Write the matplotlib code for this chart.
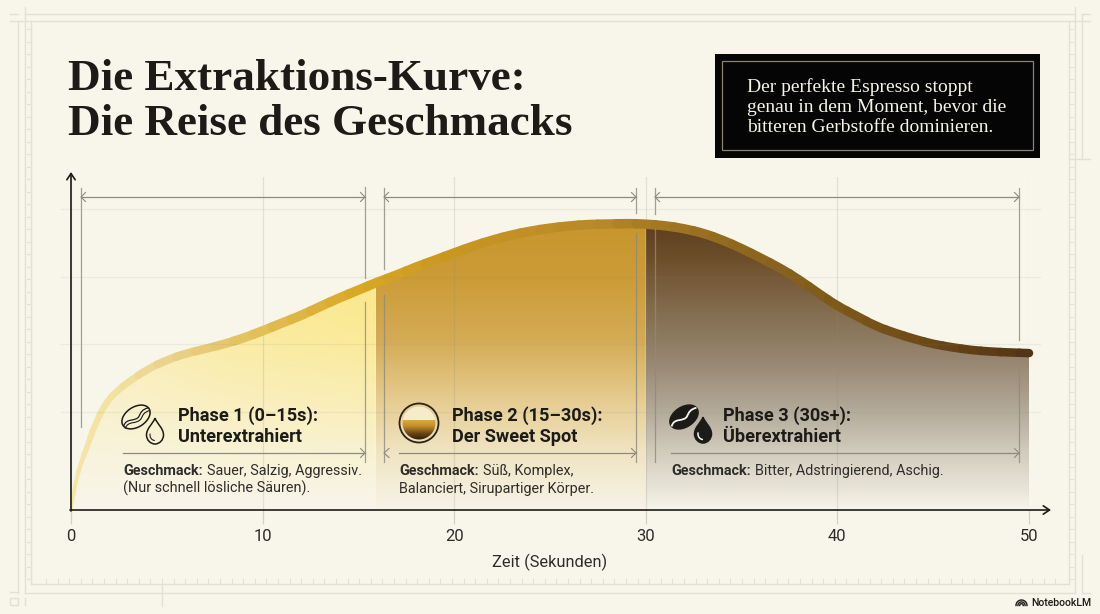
import matplotlib
matplotlib.use('Agg')
import matplotlib.pyplot as plt
import numpy as np
from matplotlib.collections import PathCollection
from matplotlib.colors import to_rgb
from matplotlib.patches import Circle, PathPatch, Polygon, Rectangle
from matplotlib.path import Path
from matplotlib.transforms import Affine2D

# data
time_s = [0, 0.25, 0.5, 0.8, 1.2, 1.8, 2.4, 3, 4, 5, 6, 7, 8, 9, 10, 11, 12, 13, 14, 15,
          16, 17, 18, 19, 20, 21, 22, 23, 24, 25, 26, 27, 28, 29, 30, 31, 32, 33, 34, 35,
          36, 37, 38, 39, 40, 41, 42, 43, 44, 45, 46, 47, 48, 49, 50]
extraction = [0, 9.7, 15.3, 20.3, 27.7, 35.7, 39.7, 42.7, 47, 50, 52.2, 53.7, 55.3, 57.3, 59.7,
              62.3, 64.8, 67.8, 70.7, 73.3, 76, 78.3, 81, 83.3, 85.7, 88, 90, 91.7, 93, 94,
              94.7, 95.2, 95.3, 95.5, 95.3, 94.8, 93.8, 92.3, 90, 87.2, 84, 80.7, 76.8, 72.3,
              68, 64.7, 61.3, 59, 57, 55.3, 54.2, 53.3, 52.8, 52.5, 52.3]
phase_edges = [0, 15.9, 30, 50]
x_ticks = [0, 10, 20, 30, 40, 50]
x_label = 'Zeit (Sekunden)'

title_lines = ['Die Extraktions-Kurve:', 'Die Reise des Geschmacks']
note_lines = ['Der perfekte Espresso stoppt', 'genau in dem Moment, bevor die',
              'bitteren Gerbstoffe dominieren.']
phase_heads = [['Phase 1 (0–15s):', 'Unterextrahiert'],
               ['Phase 2 (15–30s):', 'Der Sweet Spot'],
               ['Phase 3 (30s+):', 'Überextrahiert']]
phase_tastes = [['Sauer, Salzig, Aggressiv.', '(Nur schnell lösliche Säuren).'],
                ['Süß, Komplex,', 'Balanciert, Sirupartiger Körper.'],
                ['Bitter, Adstringierend, Aschig.', '']]

BG = '#F8F5EB'
INK = '#1C1B18'
TEXT = '#2E2D29'
FRAME = '#E3E1D5'
GUIDE = '#8C8B80'
SERIF = 'Liberation Serif'
SANS = 'Roboto'


def y_val(py):
    return (510 - py) / 3.0


def color_ramp(stops, pos):
    xs = [s[0] for s in stops]
    rgb = np.array([to_rgb(s[1]) for s in stops])
    return np.stack([np.interp(pos, xs, rgb[:, i]) for i in range(3)], axis=-1)


def gradient_fill(ax, t0, t1, stops, alpha_x=None, alpha_y=None):
    # vertical gradient, clipped to the area under the curve
    rows = np.linspace(210, 510, 300)
    img = np.ones((300, 120, 4))
    img[:, :, :3] = color_ramp(stops, rows)[:, None, :]
    if alpha_y is not None:
        img[:, :, 3] *= np.interp(rows, alpha_y[0], alpha_y[1])[:, None]
    if alpha_x is not None:
        cols = np.linspace(t0, t1, 120)
        img[:, :, 3] *= np.interp(cols, alpha_x[0], alpha_x[1])[None, :]
    im = ax.imshow(img, extent=[t0, t1, 0, y_val(210)], origin='upper', aspect='auto',
                   zorder=1, interpolation='bilinear')
    inside = [(t, v) for t, v in zip(time_s, extraction) if t0 < t < t1]
    verts = [(t0, 0), (t0, np.interp(t0, time_s, extraction))] + inside + \
            [(t1, np.interp(t1, time_s, extraction)), (t1, 0)]
    clip = Polygon(verts, closed=True, transform=ax.transData, fc='none', ec='none')
    ax.add_patch(clip)
    im.set_clip_path(clip)


def guide_arrow(ax, x0, x1, y, both=True, color=GUIDE):
    ax.plot([x0, x1], [y, y], color=color, lw=0.9, zorder=4)
    s = 4.5
    ax.plot([x1 - s, x1, x1 - s], [y - s, y, y + s], color=color, lw=0.8, zorder=4)
    if both:
        ax.plot([x0 + s, x0, x0 + s], [y - s, y, y + s], color=color, lw=0.8, zorder=4)


def draw_bean(ax, cx, cy, filled):
    tr = Affine2D().scale(15.5, 10).rotate_deg(-33).translate(cx, cy) + ax.transData
    body = PathPatch(Path.unit_circle(), transform=tr, zorder=6, lw=1.1,
                     fc=INK if filled else 'none', ec=INK)
    ax.add_patch(body)
    crease = Path([(-1, 0.12), (-0.55, -0.55), (-0.2, 0.45), (0.2, 0.1), (0.45, -0.15), (0.6, -0.3), (1, -0.1)],
                  [Path.MOVETO, Path.CURVE4, Path.CURVE4, Path.CURVE4, Path.CURVE4, Path.CURVE4, Path.CURVE4])
    ax.add_patch(PathPatch(crease, transform=tr, fc='none', ec=BG if filled else INK,
                           lw=1.3 if filled else 0.9, zorder=7))
    if not filled:
        inner = Path([(-1, 0.38), (-0.5, -0.2), (-0.25, 0.75), (0.25, 0.4), (0.5, 0.15), (0.6, 0.05), (0.97, 0.2)],
                     [Path.MOVETO, Path.CURVE4, Path.CURVE4, Path.CURVE4, Path.CURVE4, Path.CURVE4, Path.CURVE4])
        ax.add_patch(PathPatch(inner, transform=tr, fc='none', ec=INK, lw=0.8, zorder=7))


def draw_drop(ax, cx, cy, filled):
    verts = [(0, -13), (2, -7), (8.5, -3), (8.5, 4), (8.5, 9), (4.5, 13), (0, 13),
             (-4.5, 13), (-8.5, 9), (-8.5, 4), (-8.5, -3), (-2, -7), (0, -13)]
    codes = [Path.MOVETO] + [Path.CURVE4] * 12
    tr = Affine2D().translate(cx, cy) + ax.transData
    ax.add_patch(PathPatch(Path(verts, codes), transform=tr, fc=INK if filled else 'none',
                           ec=INK, lw=1.1, zorder=6))
    arc_t = np.linspace(np.pi * 0.55, np.pi * 1.05, 20)
    ax.plot(cx + 5 * np.cos(arc_t), cy + 4 + 5.5 * np.sin(arc_t), color=BG if filled else INK,
            lw=1.1 if filled else 0.8, zorder=7)


fig = plt.figure(figsize=(11, 6.14), dpi=100, facecolor=BG)

# page furniture, in pixels
bg = fig.add_axes([0, 0, 1, 1], zorder=0)
bg.set_xlim(0, 1100)
bg.set_ylim(614, 0)
bg.axis('off')
frame_h = [(14, 25, 1075), (14, 10, 18), (14, 1082, 1090), (21, 10, 1090), (584, 31, 1069),
           (593, 25, 1075), (592, 10, 18), (593, 1082, 1090), (159, 1069, 1090)]
frame_v = [(18, 21, 593), (25, 7, 593), (31, 21, 584), (1069, 21, 584), (1075, 7, 593),
           (1082, 14, 159), (1082, 555, 593), (25, 598, 605), (162, 584, 606)]
for y, a, b in frame_h:
    bg.plot([a, b], [y, y], color=FRAME, lw=1.0)
for x, a, b in frame_v:
    bg.plot([x, x], [a, b], color=FRAME, lw=1.0)
for y in np.arange(29, 580, 12.5):
    bg.plot([27, 31], [y, y], color=FRAME, lw=0.8)
    bg.plot([1069, 1073], [y, y], color=FRAME, lw=0.8)
for x in np.arange(46, 1060, 11.6):
    bg.plot([x, x], [579, 584], color=FRAME, lw=0.8)
bg.add_patch(Rectangle((10, 598), 8, 7, fc='none', ec=FRAME, lw=1))

# the chart
ax = fig.add_axes([71 / 1100, (614 - 510) / 614, 958 / 1100, 333 / 614], zorder=1)
ax.patch.set_alpha(0)
for s in ax.spines.values():
    s.set_visible(False)

gradient_fill(ax, phase_edges[0], phase_edges[1],
              [(210, '#FBE88A'), (510, '#FBE88A')],
              alpha_x=([0, 3, 8, 15.9], [0.55, 0.62, 0.85, 1.0]),
              alpha_y=([280, 340, 400, 450, 500, 510], [1.0, 0.85, 0.55, 0.28, 0.04, 0.0]))
gradient_fill(ax, phase_edges[1], phase_edges[2],
              [(210, '#C8942A'), (280, '#CC9C38'), (340, '#D4AB55'), (400, '#E6CC90'),
               (450, '#F0E3C0'), (505, '#F6F2E4'), (510, BG)])
gradient_fill(ax, phase_edges[2], phase_edges[3],
              [(210, '#583818'), (260, '#6E4F2C'), (310, '#836C4E'), (360, '#978670'),
               (410, '#B2A998'), (450, '#D0CABB'), (490, '#E9E5D9'), (510, BG)])

# stroke: one curved piece per read value, so the corners stay soft
pts = np.column_stack([time_s, extraction])
mids = (pts[:-1] + pts[1:]) / 2
pieces = [Path([pts[0], mids[0]], [Path.MOVETO, Path.LINETO])]
for i in range(1, len(pts) - 1):
    pieces.append(Path([mids[i - 1], pts[i], mids[i]], [Path.MOVETO, Path.CURVE3, Path.CURVE3]))
pieces.append(Path([mids[-1], pts[-1]], [Path.MOVETO, Path.LINETO]))
t_pos = np.array(time_s, dtype=float)
stroke_colors = color_ramp([(0, '#F5E6A6'), (2, '#F3E3A2'), (5, '#EBD38E'), (10, '#E2BF58'),
                            (15, '#D9A825'), (20, '#C99720'), (28, '#B8872A'), (30, '#A87C22'),
                            (35, '#8F6820'), (40, '#7E5A1A'), (45, '#6B4818'), (50, '#523516')], t_pos)
stroke_px = np.interp(t_pos, [0, 1, 5, 10, 30, 50], [3, 6, 8, 9.5, 9.5, 8.5])
curve = PathCollection(pieces, facecolors='none', edgecolors=stroke_colors,
                       linewidths=stroke_px * 0.72, capstyle='round', zorder=3,
                       transform=ax.transData, clip_on=False)
ax.add_collection(curve)

ax.set_xlim(0, 50)
ax.set_ylim(0, 111)
ax.set_yticks([])
ax.set_xticks(x_ticks)
ax.set_axisbelow(False)
ax.grid(axis='x', color='#8C8B80', alpha=0.2, lw=0.9)
ax.tick_params(axis='x', length=10, width=0.9, color='#D2D0C4', pad=4, labelsize=12,
               labelcolor=TEXT, labelfontfamily=SANS)
ax.set_xlabel(x_label, fontsize=11.8, family=SANS, color=TEXT, labelpad=6.5)

# annotations, in pixels
fg = fig.add_axes([0, 0, 1, 1], zorder=2)
fg.patch.set_alpha(0)
fg.axis('off')

for y in [209, 277, 344, 412]:
    fg.plot([61, 1040], [y, y], color='#8C8B80', alpha=0.11, lw=0.9, zorder=2)

fg.annotate('', xy=(71, 172), xytext=(71, 511),
            arrowprops=dict(arrowstyle='->,head_width=0.3,head_length=0.45', color=INK, lw=1.2,
                            shrinkA=0, shrinkB=0), zorder=5)
fg.annotate('', xy=(1051, 510), xytext=(70, 510),
            arrowprops=dict(arrowstyle='->,head_width=0.3,head_length=0.45', color=INK, lw=1.2,
                            shrinkA=0, shrinkB=0), zorder=5)

guide_arrow(fg, 81, 365, 197)
guide_arrow(fg, 384, 636, 197)
guide_arrow(fg, 655, 1019, 197)
guide_arrow(fg, 123, 365, 453, both=False)
guide_arrow(fg, 399, 636, 453, both=False)
guide_arrow(fg, 671, 1019, 453, both=False)
fg.plot([389, 384, 389], [448.5, 453, 457.5], color=GUIDE, lw=0.8, zorder=4)
for x, a, b in [(81, 188, 427), (365, 187, 278), (365, 302, 462), (384, 188, 269), (384, 295, 462),
                (636, 188, 213), (636, 233, 462), (655, 188, 214), (655, 228, 462),
                (1019, 188, 340), (1019, 363, 462)]:
    fg.plot([x, x], [a, b], color=GUIDE, lw=0.9, alpha=0.8, zorder=4)

# title and note box
fg.text(68, 90, title_lines[0], family=SERIF, weight='bold', fontsize=32.5, color=INK, zorder=8)
fg.text(68, 135, title_lines[1], family=SERIF, weight='bold', fontsize=32.5, color=INK, zorder=8)
fg.add_patch(Rectangle((715, 54), 325, 104, fc='#050505', ec='none', zorder=5))
fg.add_patch(Rectangle((722, 61), 311, 89, fc='none', ec='#8A8270', lw=0.9, zorder=6))
for line, y in zip(note_lines, [92, 112, 132]):
    fg.text(747, y, line, family=SERIF, fontsize=14, color='#F5F2E6', zorder=7)

# phase texts
renderer = fig.canvas.get_renderer()
head_x = [178, 452, 723]
taste_x = [123, 399, 671]
for hx, tx, head, taste in zip(head_x, taste_x, phase_heads, phase_tastes):
    fg.text(hx, 421, head[0], family=SANS, weight='bold', fontsize=13.1, color=INK, zorder=8)
    fg.text(hx, 442, head[1], family=SANS, weight='bold', fontsize=13.1, color=INK, zorder=8)
    lab = fg.text(tx, 475, 'Geschmack:', family=SANS, weight='bold', fontsize=10.4, color=TEXT, zorder=8)
    lab_w = lab.get_window_extent(renderer).width
    fg.text(tx + lab_w + 4, 475, taste[0], family=SANS, fontsize=10.4, color=TEXT, zorder=8)
    if taste[1]:
        fg.text(tx, 493, taste[1], family=SANS, fontsize=10.4, color=TEXT, zorder=8)

# icons
draw_bean(fg, 136, 417, False)
draw_drop(fg, 155, 431, False)
draw_bean(fg, 684, 417, True)
draw_drop(fg, 703, 430, True)

cup_rows = np.linspace(420, 442, 60)
cup = np.ones((60, 2, 3))
cup[:, :, :] = color_ramp([(420, '#DDA93F'), (426, '#C48E2C'), (433, '#6E4817'), (441, '#26170A')],
                          cup_rows)[:, None, :]
fg.add_patch(Circle((419, 423), 16.5, fc='#F6EBCB', ec='none', zorder=5))
cup_im = fg.imshow(cup, extent=[400, 438, 442, 420], aspect='auto', zorder=6, interpolation='bilinear')
cup_clip = Circle((419, 423), 16.5, transform=fg.transData, fc='none', ec='none')
fg.add_patch(cup_clip)
cup_im.set_clip_path(cup_clip)
fg.add_patch(Circle((419, 423), 19.5, fc='none', ec='#2A2418', lw=1.3, zorder=7))

# logo
for r in [1.8, 3.6, 5.5]:
    arc = np.linspace(np.pi, 2 * np.pi, 24)
    fg.plot(1021.5 + r * np.cos(arc), 605.5 + r * np.sin(arc), color=INK, lw=1.0, zorder=8)
fg.text(1031, 606, 'NotebookLM', family=SANS, weight='medium', fontsize=7.6, color=INK, zorder=8)

fg.set_xlim(0, 1100)
fg.set_ylim(614, 0)

fig.savefig('out.png', dpi=100, facecolor=BG)
